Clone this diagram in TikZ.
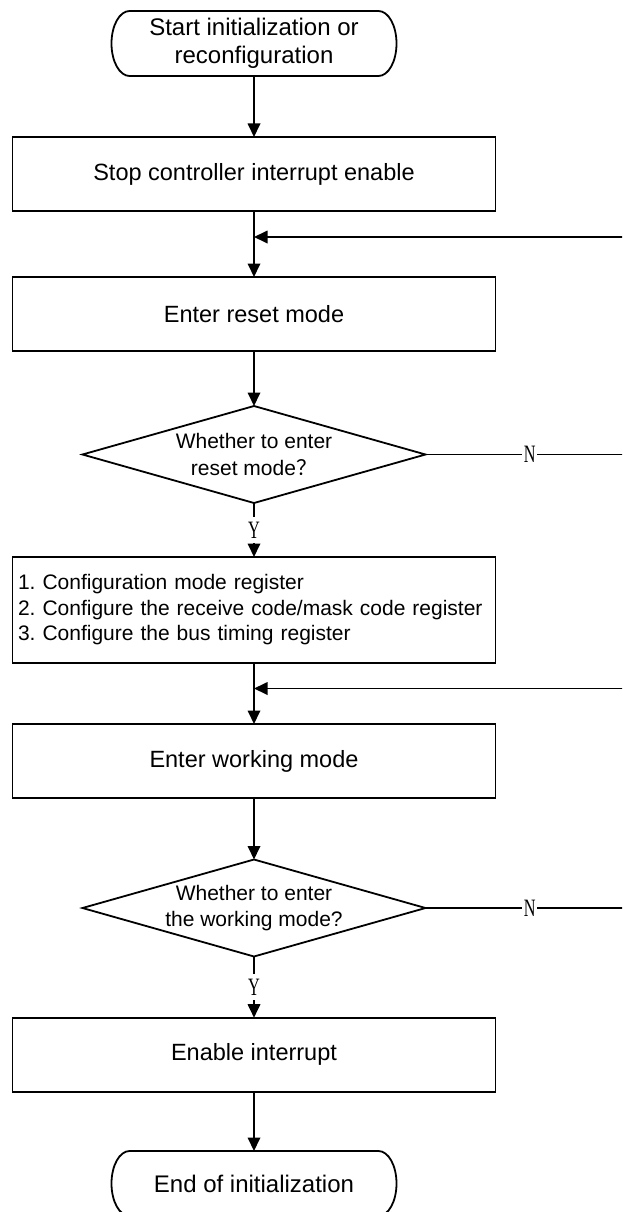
\documentclass[tikz,border=0pt]{standalone}
\usepackage{fontspec}
\setmainfont{Liberation Sans}
\newfontfamily\serifyn[FakeStretch=0.65]{Liberation Serif}
\newfontfamily\cjkfont{Noto Sans CJK SC}
\usetikzlibrary{shapes.geometric,arrows.meta,calc}
\frenchspacing
\begin{document}
\begin{tikzpicture}[x=1pt,y=-1pt,
  line/.style={line width=1.8pt},
  arr/.style={line width=1.8pt, -{Triangle[length=13.5pt,width=12.5pt]}},
  procbox/.style={draw, line width=1.8pt, rectangle, minimum width=483pt, minimum height=74pt,
    inner sep=0pt, outer sep=0pt, font=\fontsize{23.5}{28}\selectfont},
  term/.style={rectangle, minimum width=285pt, minimum height=65pt, inner sep=0pt,
    outer sep=0pt, align=center, font=\fontsize{24}{28}\selectfont},
  decision/.style={draw, line width=1.8pt, diamond, aspect=3.536, minimum width=343pt,
    minimum height=97pt, inner sep=0pt, outer sep=0pt, align=center,
    font=\fontsize{21}{26.5}\selectfont},
  yn/.style={fill=white, inner xsep=1.8pt, inner ysep=5pt, font=\fontsize{25}{25}\serifyn}
]
\useasboundingbox (0,0) rectangle (622,1212);
\clip (0,0) rectangle (622,1212);

\node[term] (start) at (254,43.5) {Start initialization or\\reconfiguration};
\node[procbox] (b1) at (254,174) {Stop controller interrupt enable};
\node[procbox] (b2) at (254,314) {Enter reset mode};
\node[decision] (d1) at (254,454.5) {Whether to enter\\reset mode{\cjkfont ？}};
\node[procbox, minimum height=106pt, text width=472pt, inner xsep=5.5pt, align=left,
  font=\fontsize{21}{25.5}\selectfont] (b3) at (254,610)
  {1. Configuration mode register\\2. Configure the receive code/mask code register\\3. Configure the bus timing register};
\node[procbox] (b4) at (254,761) {Enter working mode};
\node[decision] (d2) at (254,908) {Whether to enter\\the working mode?};
\node[procbox] (b5) at (254,1054.7) {Enable interrupt};
\node[term] (end) at (254,1183.5) {End of initialization};

% terminal outlines
\foreach \n in {start,end}{
  \draw[line] ($(\n.north west)+(18pt,0pt)$) -- ($(\n.north east)+(-18pt,0pt)$)
    arc[start angle=90,end angle=-90,x radius=18pt,y radius=32.5pt]
    -- ($(\n.south west)+(18pt,0pt)$)
    arc[start angle=270,end angle=90,x radius=18pt,y radius=32.5pt] -- cycle;
}

\coordinate (j1) at (254,237);
\coordinate (j2) at (254,688.5);
\coordinate (r1) at (634,454.5);
\coordinate (r2) at (634,237);
\coordinate (r3) at (634,908);
\coordinate (r4) at (634,688.5);

\draw[arr] (start) -- (b1);
\draw[arr] (b1) -- (b2);
\draw[arr] (b2) -- (d1);
\draw[arr] (d1) -- node[yn]{Y} (b3);
\draw[arr] (b3) -- (b4);
\draw[arr] (b4) -- (d2);
\draw[arr] (d2) -- node[yn]{Y} (b5);
\draw[arr] (b5) -- (end);
\draw[arr] (d1.east) -- node[yn]{N} (r1) -- (r2) -- (j1);
\draw[arr] (d2.east) -- node[yn]{N} (r3) -- (r4) -- (j2);
\end{tikzpicture}
\end{document}
